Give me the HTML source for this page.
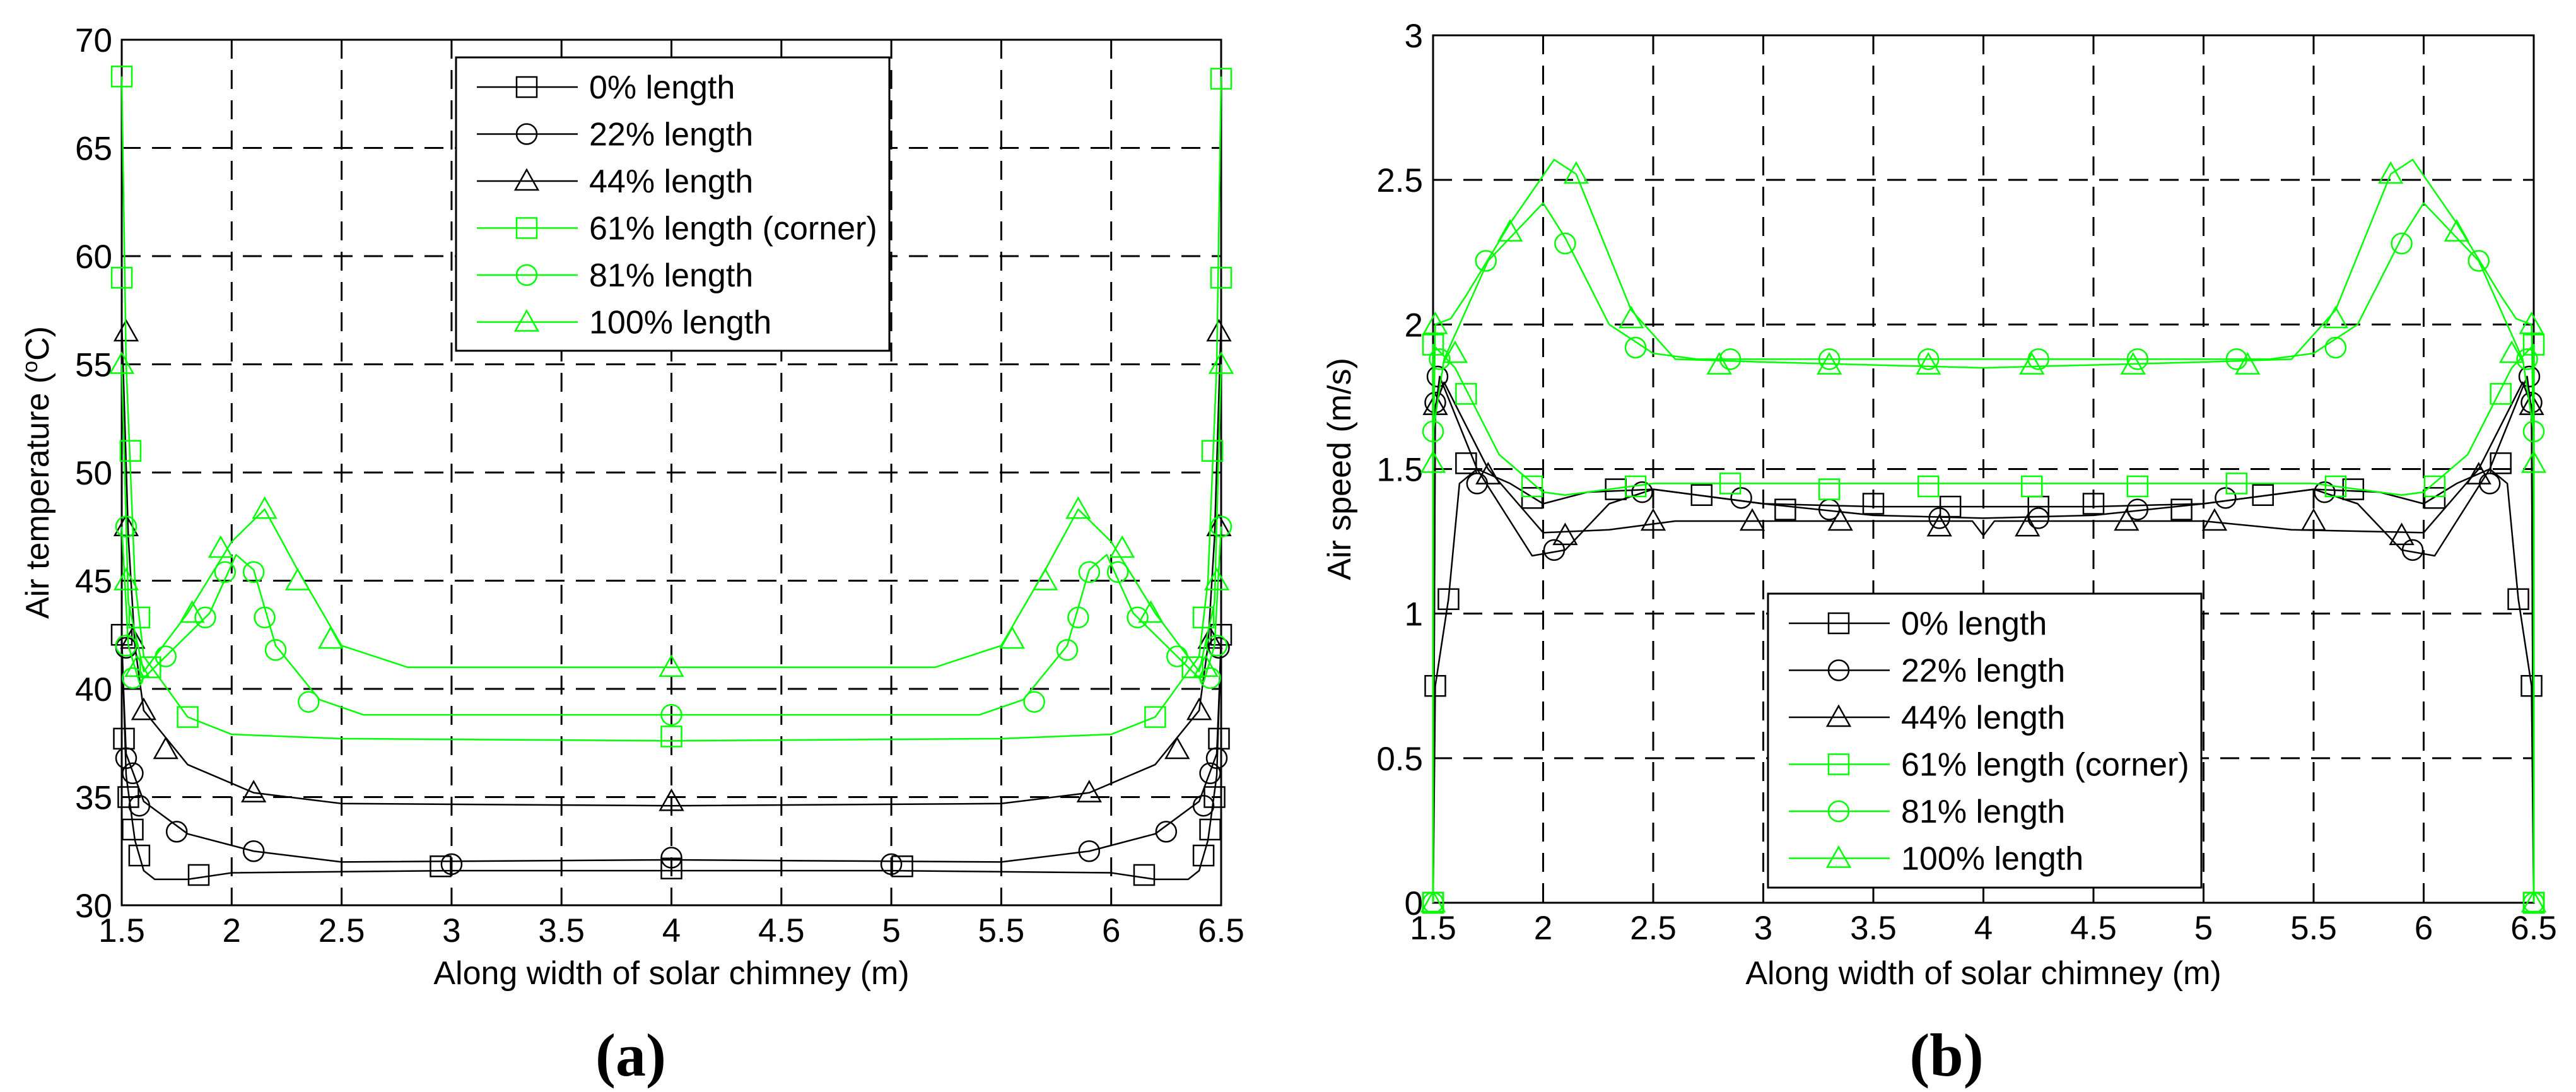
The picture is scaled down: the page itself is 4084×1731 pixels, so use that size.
<!DOCTYPE html>
<html><head><meta charset="utf-8"><style>
html,body{margin:0;padding:0;background:#fff;}
svg{display:block;font-family:"Liberation Sans",Arial,sans-serif;}
</style></head><body>
<svg id="fig" width="4084" height="1731" viewBox="0 0 4084 1731" xmlns="http://www.w3.org/2000/svg"></svg>
<script>
const NS="http://www.w3.org/2000/svg";
const svg=document.getElementById('fig');
const seriesNames=["0% length","22% length","44% length","61% length (corner)","81% length","100% length"];
const seriesColors=["#000","#000","#000","#00ff00","#00ff00","#00ff00"];
const seriesMarkers=["square","circle","triangle","square","circle","triangle"];
const xTicks=[1.5,2,2.5,3,3.5,4,4.5,5,5.5,6,6.5];
const xTickLabels=["1.5","2","2.5","3","3.5","4","4.5","5","5.5","6","6.5"];
const tTicks=[30,35,40,45,50,55,60,65,70];
const tTickLabels=["30","35","40","45","50","55","60","65","70"];
const sTicks=[0,0.5,1,1.5,2,2.5,3];
const sTickLabels=["0","0.5","1","1.5","2","2.5","3"];
// Temperature lines [x,y]
const tLine0=[[1.5,42.5],[1.52,36],[1.56,33],[1.6,31.6],[1.65,31.2],[1.8,31.2],[2,31.5],[3,31.6],[4,31.6],[5,31.6],[6,31.5],[6.2,31.2],[6.35,31.2],[6.4,31.6],[6.44,33],[6.48,36],[6.5,42.5]];
const tMark0=[[1.5,42.5],[1.51,37.7],[1.53,35],[1.55,33.5],[1.58,32.3],[1.85,31.4],[2.95,31.8],[4,31.7],[5.05,31.8],[6.15,31.4],[6.42,32.3],[6.45,33.5],[6.47,35],[6.49,37.7],[6.5,42.5]];
const tLine1=[[1.5,42],[1.52,37],[1.6,34.8],[1.8,33.3],[2.1,32.5],[2.5,32.0],[4,32.1],[5.5,32],[5.9,32.5],[6.2,33.3],[6.4,34.8],[6.48,37],[6.5,42]];
const tMark1=[[1.52,41.9],[1.52,36.8],[1.55,36.1],[1.58,34.6],[1.75,33.4],[2.1,32.5],[3,31.9],[4,32.2],[5,31.9],[5.9,32.5],[6.25,33.4],[6.42,34.6],[6.45,36.1],[6.48,36.8],[6.49,41.9]];
const tLine2=[[1.5,57],[1.53,47],[1.56,42],[1.6,39],[1.8,36.5],[2.1,35.2],[2.5,34.7],[4,34.6],[5.5,34.7],[5.9,35.2],[6.2,36.5],[6.4,39],[6.44,42],[6.47,47],[6.5,57]];
const tMark2=[[1.52,56.5],[1.52,47.5],[1.55,42.3],[1.6,39],[1.7,37.2],[2.1,35.2],[4,34.8],[5.9,35.2],[6.3,37.2],[6.4,39],[6.45,42.3],[6.49,47.5],[6.49,56.5]];
const tLine3=[[1.5,68.3],[1.52,55],[1.56,45],[1.6,41.5],[1.8,38.7],[2,37.9],[2.5,37.7],[4,37.6],[5.5,37.7],[6,37.9],[6.2,38.7],[6.4,41.5],[6.44,45],[6.48,55],[6.5,68.3]];
const tMark3=[[1.5,68.3],[1.5,59],[1.54,51],[1.58,43.3],[1.63,41],[1.8,38.7],[4,37.8],[6.2,38.7],[6.37,41],[6.42,43.3],[6.46,51],[6.5,59],[6.5,68.2]];
const tLine4=[[1.5,47.5],[1.53,42],[1.58,40.3],[1.7,41.5],[1.9,43.5],[2.02,46.2],[2.1,45.5],[2.2,42],[2.4,39.5],[2.6,38.8],[4,38.8],[5.4,38.8],[5.6,39.5],[5.8,42],[5.9,45.5],[5.98,46.2],[6.1,43.5],[6.3,41.5],[6.42,40.3],[6.47,42],[6.5,47.5]];
const tMark4=[[1.52,47.5],[1.52,42],[1.55,40.5],[1.7,41.5],[1.88,43.3],[1.97,45.4],[2.1,45.4],[2.15,43.3],[2.2,41.8],[2.35,39.4],[4,38.8],[5.65,39.4],[5.8,41.8],[5.85,43.3],[5.9,45.4],[6.03,45.4],[6.12,43.3],[6.3,41.5],[6.45,40.5],[6.48,42],[6.5,47.5]];
const tLine5=[[1.5,55],[1.53,44],[1.6,40.8],[1.8,43.5],[2.0,46.8],[2.15,48.3],[2.3,45.5],[2.5,42],[2.8,41],[4,41],[5.2,41],[5.5,42],[5.7,45.5],[5.85,48.3],[6.0,46.8],[6.2,43.5],[6.4,40.8],[6.47,44],[6.5,55]];
const tMark5=[[1.5,55],[1.52,45],[1.57,41],[1.82,43.5],[1.95,46.5],[2.15,48.3],[2.3,45],[2.45,42.3],[4,41],[5.55,42.3],[5.7,45],[5.85,48.3],[6.05,46.5],[6.18,43.5],[6.43,41],[6.48,45],[6.5,55]];
// Speed lines
const sLine0=[[1.5,0],[1.51,0.75],[1.57,1.05],[1.62,1.45],[1.7,1.5],[1.85,1.45],[2.0,1.38],[2.2,1.42],[2.5,1.43],[3,1.38],[3.5,1.37],[4,1.37],[4.5,1.37],[5,1.38],[5.5,1.43],[5.8,1.42],[6.0,1.38],[6.15,1.45],[6.3,1.5],[6.38,1.45],[6.43,1.05],[6.49,0.75],[6.5,0]];
const sMark0=[[1.5,0],[1.51,0.75],[1.57,1.05],[1.65,1.52],[1.95,1.4],[2.33,1.43],[2.72,1.41],[3.1,1.36],[3.5,1.38],[3.85,1.37],[4.25,1.37],[4.5,1.38],[4.9,1.36],[5.27,1.41],[5.68,1.43],[6.05,1.4],[6.35,1.52],[6.43,1.05],[6.49,0.75],[6.5,0]];
const sLine1=[[1.5,0],[1.51,1.7],[1.53,1.82],[1.7,1.5],[1.95,1.2],[2.1,1.22],[2.3,1.38],[2.5,1.43],[3,1.38],[3.5,1.34],[4,1.33],[4.5,1.34],[5,1.38],[5.5,1.43],[5.7,1.38],[5.9,1.22],[6.05,1.2],[6.3,1.5],[6.47,1.82],[6.49,1.7],[6.5,0]];
const sMark1=[[1.52,1.82],[1.51,1.73],[1.7,1.45],[2.05,1.22],[2.45,1.42],[2.9,1.4],[3.3,1.36],[3.8,1.33],[4.25,1.33],[4.7,1.36],[5.1,1.4],[5.55,1.42],[5.95,1.22],[6.3,1.45],[6.49,1.73],[6.48,1.82]];
const sLine2=[[1.5,0],[1.51,1.72],[1.55,1.8],[1.75,1.5],[2.0,1.28],[2.3,1.29],[2.6,1.32],[3.5,1.32],[3.95,1.32],[4,1.27],[4.05,1.32],[5,1.32],[5.4,1.29],[6.0,1.28],[6.25,1.5],[6.45,1.8],[6.49,1.72],[6.5,0]];
const sMark2=[[1.51,1.72],[1.75,1.48],[2.1,1.27],[2.5,1.32],[2.95,1.32],[3.35,1.32],[3.8,1.3],[4.2,1.3],[4.65,1.32],[5.05,1.32],[5.5,1.32],[5.9,1.27],[6.25,1.48],[6.49,1.72]];
const sLine3=[[1.5,0],[1.5,1.93],[1.6,1.85],[1.8,1.55],[2,1.42],[2.1,1.41],[2.3,1.43],[2.5,1.45],[4,1.45],[5.5,1.45],[5.7,1.43],[5.9,1.41],[6,1.42],[6.2,1.55],[6.4,1.85],[6.5,1.93],[6.5,0]];
const sMark3=[[1.5,0],[1.5,1.93],[1.65,1.76],[1.95,1.44],[2.42,1.44],[2.85,1.45],[3.3,1.43],[3.75,1.44],[4.22,1.44],[4.7,1.44],[5.15,1.45],[5.6,1.44],[6.05,1.44],[6.35,1.76],[6.5,1.93],[6.5,0]];
const sLine4=[[1.5,0],[1.5,1.63],[1.55,1.88],[1.75,2.22],[2,2.42],[2.1,2.3],[2.3,2.0],[2.5,1.9],[2.7,1.88],[5.3,1.88],[5.5,1.9],[5.7,2.0],[5.9,2.3],[6,2.42],[6.25,2.22],[6.45,1.88],[6.5,1.63],[6.5,0]];
const sMark4=[[1.5,0],[1.5,1.63],[1.53,1.88],[1.74,2.22],[2.1,2.28],[2.42,1.92],[2.85,1.88],[3.3,1.88],[3.75,1.88],[4.25,1.88],[4.7,1.88],[5.15,1.88],[5.6,1.92],[5.9,2.28],[6.25,2.22],[6.47,1.88],[6.5,1.63],[6.5,0]];
const sLine5=[[1.5,0],[1.5,1.52],[1.51,2.0],[1.58,2.02],[1.65,2.1],[1.85,2.35],[2.05,2.57],[2.15,2.52],[2.4,2.05],[2.6,1.88],[3,1.87],[4,1.85],[5,1.87],[5.4,1.88],[5.6,2.05],[5.85,2.52],[5.95,2.57],[6.15,2.35],[6.35,2.1],[6.42,2.02],[6.49,2.0],[6.5,1.52],[6.5,0]];
const sMark5=[[1.5,0],[1.5,1.52],[1.51,2.0],[1.6,1.9],[1.85,2.32],[2.15,2.52],[2.4,2.02],[2.8,1.86],[3.3,1.86],[3.75,1.86],[4.22,1.86],[4.68,1.86],[5.2,1.86],[5.6,2.02],[5.85,2.52],[6.15,2.32],[6.4,1.9],[6.49,2.0],[6.5,1.52],[6.5,0]];

const tLines=[tLine0,tLine1,tLine2,tLine3,tLine4,tLine5];
const tMarks=[tMark0,tMark1,tMark2,tMark3,tMark4,tMark5];
const sLines=[sLine0,sLine1,sLine2,sLine3,sLine4,sLine5];
const sMarks=[sMark0,sMark1,sMark2,sMark3,sMark4,sMark5];

function el(tag,attrs,parent){const e=document.createElementNS(NS,tag);for(const k in attrs)e.setAttribute(k,attrs[k]);(parent||svg).appendChild(e);return e;}

function marker(g,type,x,y,color){
  const r=16;let m;
  if(type==="square") m=el('rect',{x:x-r,y:y-r,width:2*r,height:2*r,fill:'none',stroke:color,'stroke-width':2.5},g);
  else if(type==="circle") m=el('circle',{cx:x,cy:y,r:r,fill:'none',stroke:color,'stroke-width':2.5},g);
  else m=el('polygon',{points:`${x},${y-r-2} ${x-r-2},${y+r-2} ${x+r+2},${y+r-2}`,fill:'none',stroke:color,'stroke-width':2.5},g);
  return m;
}

function chart(cfg){
  const {x0,x1,y0,y1,ymin,ymax,yTicks,yLabels,lines,marks,legend,key,yTitle,yTitleX,yLabelRight,caption,captionX}=cfg;
  const sx=v=>x0+(v-1.5)/5*(x1-x0);
  const sy=v=>y1-(v-ymin)/(ymax-ymin)*(y1-y0);
  const g=el('g',{});
  
  
  // grid
  xTicks.forEach((t,i)=>{
    if(i>0&&i<xTicks.length-1){const l=el('line',{x1:sx(t),x2:sx(t),y1:y0,y2:y1,stroke:'#000','stroke-width':3,'stroke-dasharray':'30 18'},g);
      }
    const tx=el('text',{x:sx(t),y:y1+58,'font-size':53,'text-anchor':'middle',fill:'#000'},g);
    tx.textContent=xTickLabels[i];
    
  });
  yTicks.forEach((t,i)=>{
    if(i>0&&i<yTicks.length-1){const l=el('line',{x1:x0,x2:x1,y1:sy(t),y2:sy(t),stroke:'#000','stroke-width':3,'stroke-dasharray':'30 18'},g);
      }
    const tx=el('text',{x:yLabelRight,y:sy(t)+19,'font-size':53,'text-anchor':'end',fill:'#000'},g);
    tx.textContent=yLabels[i];
    
  });
  const frame=el('rect',{x:x0,y:y0,width:x1-x0,height:y1-y0,fill:'none',stroke:'#000','stroke-width':3},g);
  
  // series
  lines.forEach((ln,i)=>{
    const sg=el('g',{},g);
    
    const p=el('polyline',{points:ln.map(d=>sx(d[0])+','+sy(d[1])).join(' '),fill:'none',stroke:seriesColors[i],'stroke-width':2.5,'stroke-linejoin':'round'},sg);
    
    marks[i].forEach(d=>{const m=marker(sg,seriesMarkers[i],sx(d[0]),sy(d[1]),seriesColors[i]);
      });
  });
  // legend
  const lg=el('g',{},g);
  
  el('rect',{x:legend.x,y:legend.y,width:legend.w,height:legend.h,fill:'#fff',stroke:'#000','stroke-width':3},lg);
  seriesNames.forEach((n,i)=>{
    const yy=legend.y+47+i*74.5;
    const e=el('g',{},lg);
    
    el('line',{x1:legend.x+33,x2:legend.x+193,y1:yy,y2:yy,stroke:seriesColors[i],'stroke-width':2.5},e);
    marker(e,seriesMarkers[i],legend.x+112,yy,seriesColors[i]);
    const t=el('text',{x:legend.x+211,y:yy+18,'font-size':52,fill:'#000'},e);t.textContent=n;
  });
  const xt=el('text',{x:(x0+x1)/2,y:1560,'font-size':52,'text-anchor':'middle',fill:'#000'},g);
  xt.textContent="Along width of solar chimney (m)";
  
  const yt=el('text',{x:0,y:0,'font-size':52,'text-anchor':'middle',fill:'#000',transform:`translate(${yTitleX},${(y0+y1)/2}) rotate(-90)`},g);
  yt.innerHTML=yTitle;
  
  const c=el('text',{x:captionX,y:1705,'font-size':96,'text-anchor':'middle','font-family':'"Liberation Serif",serif','font-weight':'bold',fill:'#000'},g);
  c.textContent=caption;
  
}
chart({key:'temperature',x0:193,x1:1936,y0:63,y1:1435,ymin:30,ymax:70,yTicks:tTicks,yLabels:tTickLabels,lines:tLines,marks:tMarks,
  legend:{x:723,y:91,w:687,h:465},yTitle:'Air temperature (<tspan font-size="34" dy="-18">o</tspan><tspan dy="18">C)</tspan>',yTitleX:77,yLabelRight:178,caption:'(a)',captionX:1000});
chart({key:'speed',x0:2272,x1:4017,y0:56,y1:1431,ymin:0,ymax:3,yTicks:sTicks,yLabels:sTickLabels,lines:sLines,marks:sMarks,
  legend:{x:2803,y:941,w:687,h:466},yTitle:'Air speed (m/s)',yTitleX:2141,yLabelRight:2256,caption:'(b)',captionX:3086});
</script>
</body></html>
